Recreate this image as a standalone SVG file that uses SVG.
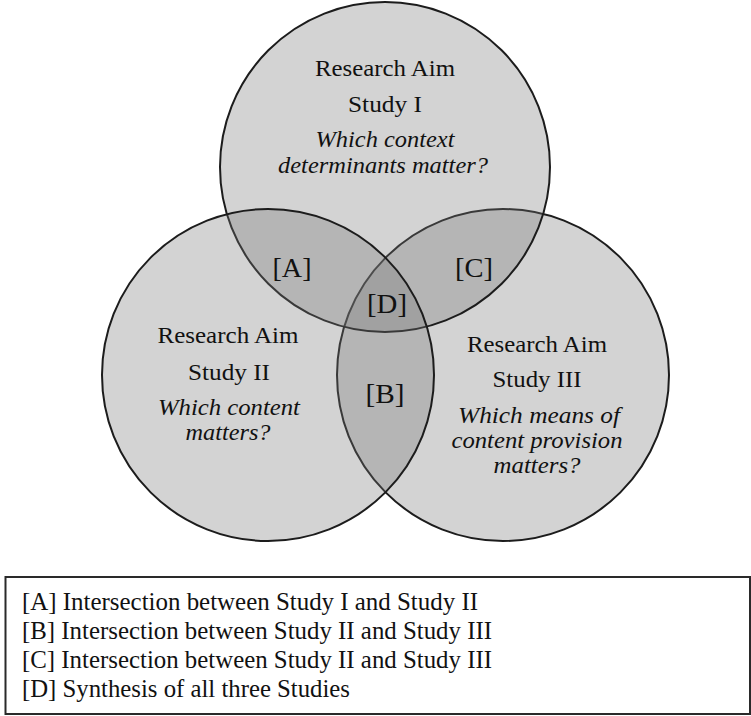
<svg xmlns="http://www.w3.org/2000/svg" width="751" height="716" viewBox="0 0 751 716">
  <style>
    .set { fill: rgb(118,118,118); fill-opacity: 0.32; stroke: #1c1c1c; stroke-width: 2; }
    .t { font-family: "Liberation Serif", "Times New Roman", serif; font-size: 23px; fill: #111; text-anchor: middle; }
    .q { font-style: italic; }
    .tag { font-family: "Liberation Serif", "Times New Roman", serif; font-size: 27px; fill: #111; text-anchor: middle; }
    .key { font-family: "Liberation Serif", "Times New Roman", serif; font-size: 25px; fill: #111; }
  </style>
  <rect width="751" height="716" fill="#ffffff"/>

  <!-- Study III -->
  <g id="study-3">
    <circle class="set" cx="503" cy="375" r="166"/>
    <text class="t" x="537" y="352" textLength="140" lengthAdjust="spacingAndGlyphs">Research Aim</text>
    <text class="t" x="537" y="387" textLength="89" lengthAdjust="spacingAndGlyphs">Study III</text>
    <text class="t q" x="539" y="423" textLength="162" lengthAdjust="spacingAndGlyphs">Which means of</text>
    <text class="t q" x="537" y="448" textLength="171" lengthAdjust="spacingAndGlyphs">content provision</text>
    <text class="t q" x="537" y="473" textLength="87" lengthAdjust="spacingAndGlyphs">matters?</text>
  </g>

  <!-- Study I -->
  <g id="study-1">
    <circle class="set" cx="385" cy="167" r="165"/>
    <text class="t" x="385" y="76" textLength="140" lengthAdjust="spacingAndGlyphs">Research Aim</text>
    <text class="t" x="385" y="112" textLength="74" lengthAdjust="spacingAndGlyphs">Study I</text>
    <text class="t q" x="385" y="147" textLength="139" lengthAdjust="spacingAndGlyphs">Which context</text>
    <text class="t q" x="383" y="173" textLength="210" lengthAdjust="spacingAndGlyphs">determinants matter?</text>
  </g>

  <!-- Study II -->
  <g id="study-2">
    <circle class="set" cx="268" cy="375" r="166"/>
    <text class="t" x="228" y="343" textLength="141" lengthAdjust="spacingAndGlyphs">Research Aim</text>
    <text class="t" x="229" y="380" textLength="82" lengthAdjust="spacingAndGlyphs">Study II</text>
    <text class="t q" x="229" y="415" textLength="142" lengthAdjust="spacingAndGlyphs">Which content</text>
    <text class="t q" x="228" y="440" textLength="85" lengthAdjust="spacingAndGlyphs">matters?</text>
  </g>

  <!-- intersection tags -->
  <g id="tag-a"><text class="tag" x="292" y="277" textLength="39" lengthAdjust="spacingAndGlyphs">[A]</text></g>
  <g id="tag-c"><text class="tag" x="474" y="277" textLength="38" lengthAdjust="spacingAndGlyphs">[C]</text></g>
  <g id="tag-d"><text class="tag" x="387" y="313" textLength="40" lengthAdjust="spacingAndGlyphs">[D]</text></g>
  <g id="tag-b"><text class="tag" x="385" y="403" textLength="39" lengthAdjust="spacingAndGlyphs">[B]</text></g>

  <!-- key -->
  <g id="legend">
    <rect x="5.5" y="577" width="744.5" height="137" fill="#ffffff" stroke="#2a2a2a" stroke-width="2"/>
    <text class="key" x="22" y="610" textLength="456" lengthAdjust="spacingAndGlyphs">[A] Intersection between Study I and Study II</text>
    <text class="key" x="22" y="639" textLength="470" lengthAdjust="spacingAndGlyphs">[B] Intersection between Study II and Study III</text>
    <text class="key" x="22" y="668" textLength="470" lengthAdjust="spacingAndGlyphs">[C] Intersection between Study II and Study III</text>
    <text class="key" x="22" y="697" textLength="328" lengthAdjust="spacingAndGlyphs">[D] Synthesis of all three Studies</text>
  </g>
</svg>
